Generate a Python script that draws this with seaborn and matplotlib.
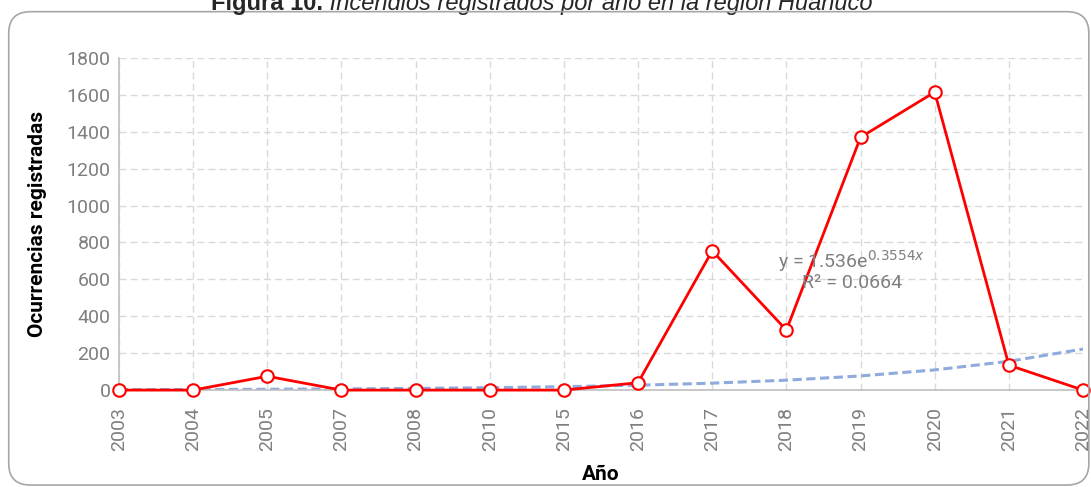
import numpy as np
import pandas as pd
import matplotlib.pyplot as plt
import seaborn as sns
from matplotlib.patches import FancyBboxPatch

sns.set_style("whitegrid")
plt.rcParams['font.family'] = ['Roboto', 'DejaVu Sans']

# datos
anios = ['2003', '2004', '2005', '2007', '2008', '2010', '2015',
         '2016', '2017', '2018', '2019', '2020', '2021', '2022']
ocurrencias = [0, 0, 75, 0, 0, 0, 0, 40, 755, 325, 1370, 1615, 135, 0]

# linea de tendencia exponencial (ecuacion del grafico)
coef_a = 1.536
coef_b = 0.3554
r2 = 0.0664

df = pd.DataFrame({'idx': np.arange(len(anios)), 'anio': anios, 'n': ocurrencias})
df['tend'] = coef_a * np.exp(coef_b * (df['idx'] + 1))

fig = plt.figure(figsize=(10.91, 4.87), dpi=100)
ax = fig.add_axes([0.109, 0.199, 0.8837, 0.682])

gris = '#7F7F7F'

sns.lineplot(data=df, x='idx', y='tend', ax=ax, color='#8FAADC', lw=2.2,
             linestyle=(0, (3, 1.5)), zorder=2)
sns.lineplot(data=df, x='idx', y='n', ax=ax, color='#FF0000', lw=2,
             marker='o', markersize=9, markerfacecolor='white',
             markeredgecolor='#FF0000', markeredgewidth=1.5, zorder=3,
             clip_on=False)

ax.set_xlim(0, len(anios) - 1)
ax.set_ylim(0, 1800)
ax.set_xticks(df['idx'])
ax.set_xticklabels(anios, rotation=90)
ax.set_yticks(range(0, 1801, 200))
ax.tick_params(axis='both', colors=gris, labelsize=14, length=0, pad=6)
ax.tick_params(axis='x', length=6, color='#BFBFBF')

ax.grid(True, linestyle=(0, (5, 3)), color='#D9D9D9', lw=1)
for s in ['top', 'right']:
    ax.spines[s].set_visible(False)
for s in ['left', 'bottom']:
    ax.spines[s].set_color('#BFBFBF')
    ax.spines[s].set_linewidth(1.2)

ax.set_xlabel('Año', fontsize=15, fontweight='bold', color='black', labelpad=10)
ax.set_ylabel('Ocurrencias registradas', fontsize=15, fontweight='bold',
              color='black', labelpad=14)

ax.text(0.76, 0.389, 'y = %.3fe$^{%.4fx}$' % (coef_a, coef_b),
        transform=ax.transAxes, ha='center', va='center', fontsize=14, color=gris)
ax.text(0.76, 0.322, 'R² = %.4f' % r2, transform=ax.transAxes,
        ha='center', va='center', fontsize=14, color=gris)

# marco redondeado
marco = FancyBboxPatch((0.008, 0.004), 0.99, 0.972, boxstyle='round,pad=0,rounding_size=0.02',
                       transform=fig.transFigure, fill=False, ec='#A6A6A6', lw=1.2,
                       mutation_aspect=2.2)
fig.patches.append(marco)

# titulo (cortado arriba en la imagen original)
t1 = fig.text(0.193, 0.993, 'Figura 10.', ha='left', va='center', fontsize=17,
              fontweight='bold', family=['Liberation Sans', 'DejaVu Sans'])
ax.annotate(' Incendios registrados por año en la región Huánuco',
            xy=(1, 0.5), xycoords=t1, ha='left', va='center', fontsize=17,
            style='italic', family=['Liberation Sans', 'DejaVu Sans'],
            annotation_clip=False)

fig.savefig('out.png', dpi=100)
